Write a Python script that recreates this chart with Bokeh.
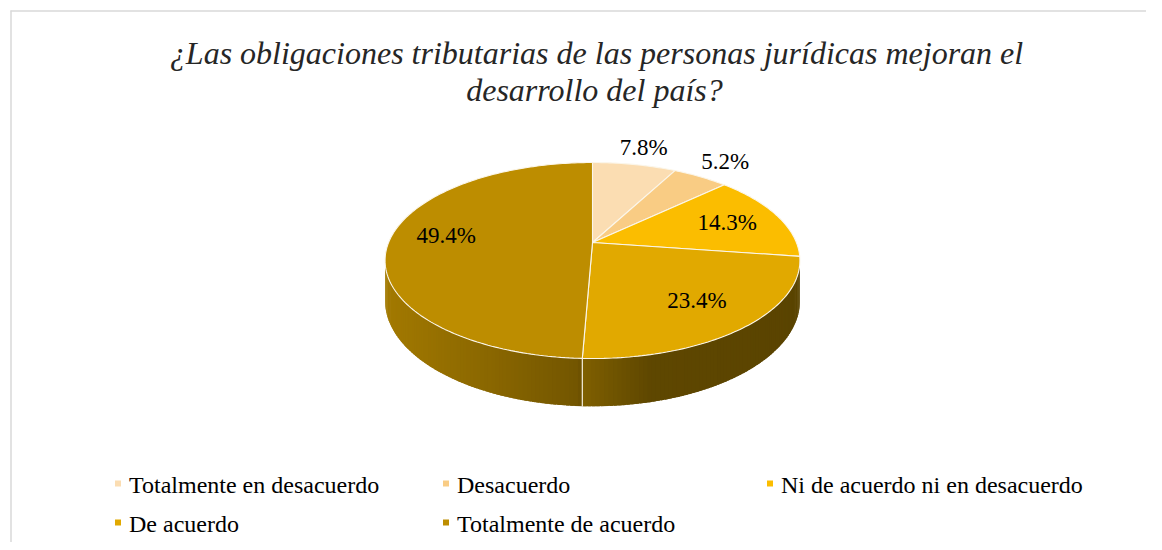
import numpy as np
from bokeh.plotting import figure
from bokeh.models import Range1d, ColumnDataSource
from bokeh.embed import file_html
from bokeh.resources import INLINE
from bokeh.core.properties import value

# ---------------- data ----------------
title_lines = ["¿Las obligaciones tributarias de las personas jurídicas mejoran el",
               "desarrollo del país?"]
categories = ["Totalmente en desacuerdo", "Desacuerdo", "Ni de acuerdo ni en desacuerdo",
              "De acuerdo", "Totalmente de acuerdo"]
percentages = [7.8, 5.2, 14.3, 23.4, 49.4]
colors = ["#fbddb2", "#f9cc84", "#fbbd00", "#e1a900", "#bd8d00"]

# ---------------- figure (1 data unit = 1 screen px) ----------------
W, H = 1146, 542
p = figure(width=W, height=H, x_range=Range1d(0, W), y_range=Range1d(H, 0),
           output_backend="svg", toolbar_location=None, min_border=0)
p.axis.visible = False
p.grid.visible = False
p.outline_line_color = None
p.background_fill_color = "white"
p.border_fill_color = "white"

SERIF = value("'Liberation Serif', 'Times New Roman', serif")

# chart frame (left/top edges visible)
p.line([10.5, 10.5], [10, 560], line_color="#d9d9d9", line_width=1.5)
p.line([10, 1170], [10.5, 10.5], line_color="#d9d9d9", line_width=1.5)

# ---------------- title ----------------
p.text(x=[596, 594], y=[52, 89], text=title_lines, text_align="center",
       text_baseline="middle", text_font=SERIF, text_font_style="italic",
       text_font_size="32px", text_color="#262626")

# ---------------- 3D pie geometry ----------------
CX, CY = 592.0, 242.0
RX, RY = 203.9, 94.7
K = 0.1837          # perspective strength
DEPTH = 39.0        # side thickness


def proj(theta_deg, r=1.0, drop=0.0):
    t = np.radians(theta_deg)
    c, s = np.cos(t), np.sin(t)
    w = 1.0 / (1.0 + K * r * c)
    return CX + RX * r * s * w, CY - RY * r * c * w + drop * w


def hex_rgb(h):
    h = h.lstrip("#")
    return tuple(int(h[i:i + 2], 16) for i in (0, 2, 4))


vals = np.array(percentages, dtype=float)
angles = np.concatenate([[0.0], np.cumsum(vals) / vals.sum() * 360.0])

th_left_vis = np.degrees(np.arccos(-K))        # right silhouette (clockwise from top)
th_right_vis = 360.0 - th_left_vis             # left silhouette

x_min = proj(th_right_vis)[0]
x_max = proj(th_left_vis)[0]
u_knots = [0.0, 0.23, 0.46, 0.48, 0.64, 1.0]
f_knots = [0.86, 0.74, 0.61, 0.56, 0.42, 0.40]

# sides (drawn first) as overlapping gradient strips
side_xs, side_ys, side_cols = [], [], []
for i in range(len(vals)):
    a0 = max(angles[i], th_left_vis)
    a1 = min(angles[i + 1], th_right_vis)
    if a1 <= a0:
        continue
    base = hex_rgb(colors[i])
    n = max(2, int((a1 - a0) / 1.0))
    ts = np.linspace(a0, a1, n + 1)
    step = ts[1] - ts[0]
    for t0, t1 in zip(ts[:-1], ts[1:]):
        t1e = min(t1 + step * 0.8, a1)
        x0t, y0t = proj(t0)
        x1t, y1t = proj(t1e)
        x0b, y0b = proj(t0, drop=DEPTH)
        x1b, y1b = proj(t1e, drop=DEPTH)
        xm = proj((t0 + t1) / 2)[0]
        u = (xm - x_min) / (x_max - x_min)
        f = np.interp(u, u_knots, f_knots)
        col = "#%02x%02x%02x" % tuple(int(round(c * f)) for c in base)
        side_xs.append([x0t, x1t, x1b, x0b])
        side_ys.append([y0t, y1t, y1b, y0b])
        side_cols.append(col)

p.patches(xs="xs", ys="ys", fill_color="c", line_color=None,
          source=ColumnDataSource(dict(xs=side_xs, ys=side_ys, c=side_cols)))

# side boundary lines
for a in angles:
    if th_left_vis < a < th_right_vis:
        xt, yt = proj(a)
        xb, yb = proj(a, drop=DEPTH)
        p.line([xt, xb], [yt, yb], line_color="#f5eedc", line_width=1.2)

# top faces
top_xs, top_ys = [], []
for i in range(len(vals)):
    ts = np.linspace(angles[i], angles[i + 1], max(3, int(angles[i + 1] - angles[i]) + 2))
    xs, ys = [CX], [CY]
    for t in ts:
        x, y = proj(t)
        xs.append(x)
        ys.append(y)
    top_xs.append(xs)
    top_ys.append(ys)

p.patches(xs="xs", ys="ys", fill_color="c", line_color="#fbf6ea", line_width=1.1,
          source=ColumnDataSource(dict(xs=top_xs, ys=top_ys, c=colors)))

# ---------------- data labels ----------------
lab_x, lab_y, lab_t = [], [], []
for i, v in enumerate(vals):
    mid = (angles[i] + angles[i + 1]) / 2
    r = 1.27 if v < 10 else 0.72
    x, y = proj(mid, r=r)
    lab_x.append(x)
    lab_y.append(y - (6 if v >= 40 else 0))
    lab_t.append(f"{v:.1f}%")
p.text(x=lab_x, y=lab_y, text=lab_t, text_align="center", text_baseline="middle",
       text_font=SERIF, text_font_size="23px", text_color="black")

# ---------------- legend ----------------
col_x = [117.5, 445.5, 769.5]
row_y = [484, 523]
leg_x = [col_x[i % 3] for i in range(len(categories))]
leg_y = [row_y[i // 3] for i in range(len(categories))]
p.rect(x=leg_x, y=[y - 1 for y in leg_y], width=6, height=6, fill_color=colors, line_color=None)
p.text(x=[x + 11 for x in leg_x], y=leg_y, text=categories, text_align="left",
       text_baseline="middle", text_font=SERIF, text_font_size="24px", text_color="black")

open("out.html", "w").write(file_html(p, INLINE))
